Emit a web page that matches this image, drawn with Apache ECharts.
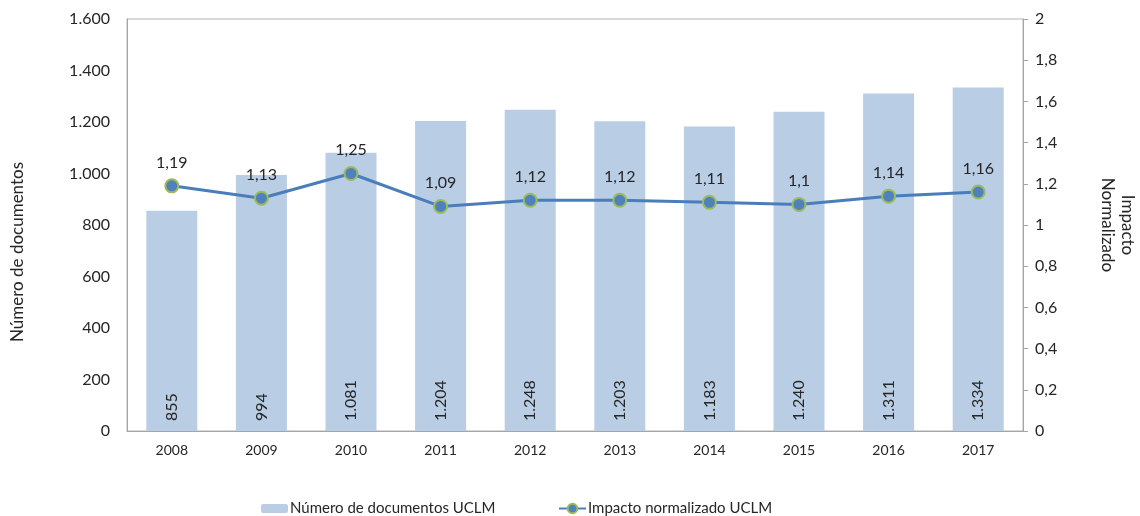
<!DOCTYPE html>
<html>
<head>
<meta charset="utf-8">
<script src="https://cdn.jsdelivr.net/npm/echarts@6/dist/echarts.min.js"></script>
<style>
html,body{margin:0;padding:0;background:#fff;}
#chart{width:1140px;height:516px;}
</style>
</head>
<body>
<div id="chart"></div>
<script>
const years = ['2008','2009','2010','2011','2012','2013','2014','2015','2016','2017'];
const documentos = [855, 994, 1081, 1204, 1248, 1203, 1183, 1240, 1311, 1334];
const impacto = [1.19, 1.13, 1.25, 1.09, 1.12, 1.12, 1.11, 1.10, 1.14, 1.16];
const seriesNames = ['Número de documentos UCLM', 'Impacto normalizado UCLM'];
const axisTitles = ['Número de documentos', 'Impacto\nNormalizado'];

const FONT = 'Lato';
const TXT = '#262626';
function thousands(v){ return String(Math.round(v)).replace(/\B(?=(\d{3})+(?!\d))/g, '.'); }
function dec(v){ return String(Math.round(v*100)/100).replace('.', ','); }

const chart = echarts.init(document.getElementById('chart'));
chart.setOption({
  animation: false,
  textStyle: { fontFamily: FONT },
  grid: { left: 127, right: 117, top: 19, bottom: 85, show: true, borderColor: '#b3b3b3', borderWidth: 1, backgroundColor: 'transparent' },
  legend: [
    { data: [seriesNames[0]], left: 261, top: 501, padding: 0, itemWidth: 27, itemHeight: 9, itemGap: 0,
      textStyle: { fontFamily: FONT, fontSize: 15, color: TXT, padding: [0,0,0,-3] } },
    { data: [seriesNames[1]], left: 558, top: 501, padding: 0, itemWidth: 27, itemHeight: 12,
      textStyle: { fontFamily: FONT, fontSize: 15, color: TXT, padding: [0,0,0,-3] } }
  ],
  xAxis: {
    type: 'category', data: years,
    axisLine: { lineStyle: { color: '#a6a6a6' } },
    axisTick: { show: false },
    axisLabel: { fontFamily: FONT, fontSize: 14, color: TXT, margin: 12 }
  },
  yAxis: [
    { type: 'value', min: 0, max: 1600, interval: 200,
      axisLine: { show: true, lineStyle: { color: '#a6a6a6' } },
      axisTick: { show: false },
      splitLine: { show: false },
      axisLabel: { fontFamily: FONT, fontSize: 16, color: TXT, margin: 17, formatter: thousands } },
    { type: 'value', min: 0, max: 2, interval: 0.2, position: 'right',
      axisLine: { show: true, lineStyle: { color: '#a6a6a6' } },
      axisTick: { show: true, length: 5, lineStyle: { color: '#a6a6a6' } },
      splitLine: { show: false },
      axisLabel: { fontFamily: FONT, fontSize: 16, color: TXT, margin: 12, formatter: dec } }
  ],
  graphic: [
    { type: 'text', x: 18, y: 252, rotation: Math.PI/2,
      style: { text: axisTitles[0], font: '17px ' + FONT, fill: TXT, align: 'center', verticalAlign: 'middle' } },
    { type: 'text', x: 1117, y: 225, rotation: -Math.PI/2,
      style: { text: axisTitles[1], font: '17px ' + FONT, fill: TXT, align: 'center', verticalAlign: 'middle', lineHeight: 20 } }
  ],
  series: [
    { name: seriesNames[0], type: 'bar', data: documentos, yAxisIndex: 0, barWidth: 51,
      itemStyle: { color: '#b9cde5' },
      label: { show: true, position: 'insideBottom', rotate: 90, align: 'left', verticalAlign: 'middle', distance: 10,
        fontFamily: FONT, fontSize: 16, color: TXT, formatter: p => thousands(p.value) } },
    { name: seriesNames[1], type: 'line', data: impacto, yAxisIndex: 1,
      symbol: 'circle', symbolSize: 13,
      lineStyle: { color: '#4a7ebb', width: 3 },
      itemStyle: { color: '#4f81bd', borderColor: '#9bbb59', borderWidth: 2 },
      label: { show: true, position: 'top', distance: 8, fontFamily: FONT, fontSize: 16, color: TXT, formatter: p => dec(p.value) } }
  ]
});
</script>
</body>
</html>
